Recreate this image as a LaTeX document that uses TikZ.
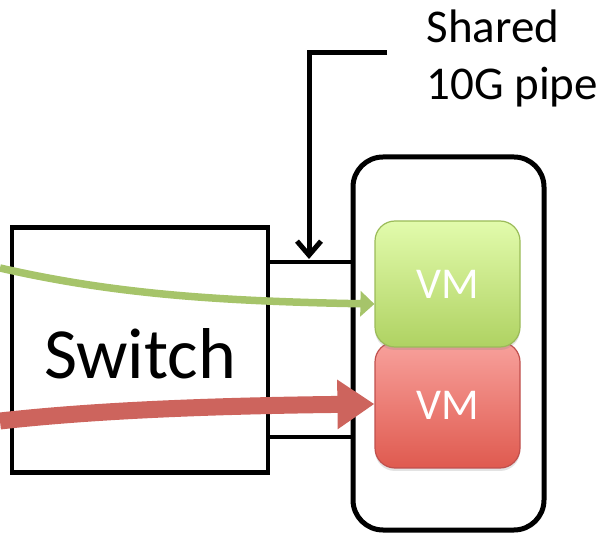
\documentclass[tikz,border=0pt]{standalone}
\usepackage{fontspec}
\setmainfont{Carlito}
\usetikzlibrary{arrows.meta,shadows}
\definecolor{vmgreentop}{HTML}{E2FBAC}
\definecolor{vmgreenbot}{HTML}{AFD262}
\definecolor{vmgreenrim}{HTML}{9BBB59}
\definecolor{vmredtop}{HTML}{F8A19C}
\definecolor{vmredbot}{HTML}{DF5A4F}
\definecolor{vmredrim}{HTML}{C0504D}
\definecolor{flowgreen}{HTML}{A6C46A}
\definecolor{flowred}{HTML}{CD645D}
\tikzset{
  boxline/.style={draw=black, line width=4.5pt},
  vmbox/.style={rounded corners=20pt, line width=1.2pt, minimum width=145pt,
    minimum height=126pt, text=white, font=\fontsize{44}{44}\selectfont,
    drop shadow={opacity=0.22, shadow xshift=0pt, shadow yshift=-3pt}},
  pipeline/.style={line width=4.5pt, draw=black},
  flow/.style={line cap=butt},
}
\begin{document}
\begin{tikzpicture}[x=1pt,y=-1pt]
\useasboundingbox (0,0) rectangle (600,534);

% switch and server
\node[boxline, minimum width=256pt, minimum height=245pt] (switch) at (140,350) {};
\node[anchor=base, font=\fontsize{72}{72}\selectfont] (switchlabel) at (140,379) {Switch};
\node[draw=black, line width=5pt, rounded corners=30pt, minimum width=191pt,
      minimum height=373pt] (server) at (448.5,343.5) {};

% the two virtual machines
\node[vmbox, draw=vmredrim, top color=vmredtop, bottom color=vmredbot] (vmred) at (447.5,405) {VM};
\node[vmbox, draw=vmgreenrim, top color=vmgreentop, bottom color=vmgreenbot] (vmgreen) at (447.5,284) {VM};

% the shared pipe between switch and server
\draw[pipeline] (switch.east |- 0,262) -- (server.west |- 0,262);
\draw[pipeline] (switch.east |- 0,437) -- (server.west |- 0,437);

% label and pointer
\node[anchor=base west, align=left, font=\fontsize{47}{57}\selectfont] (pipelabel) at (423,100) {Shared\\10G pipe};
\coordinate (pointertail) at (387,53);
\coordinate (pointertip) at (309,259);
\draw[line width=5pt, -{Straight Barb[length=14pt,width=24pt,line width=5pt]}]
  (pointertail) -- (pointertip |- pointertail) -- (pointertip);

% traffic flows
\coordinate (greenstart) at (0,268);
\coordinate (redstart) at (0,421);
\draw[flow, draw=flowgreen, line width=7.5pt, -{Triangle[length=14pt,width=25pt]}]
  (greenstart) .. controls (110,293) and (210,301) .. (vmgreen.west |- 0,304);
\draw[flow, draw=flowred, line width=17pt, -{Triangle[length=37pt,width=47pt]}]
  (redstart) .. controls (90,411) and (200,406) .. (vmred.west |- 0,404);
\end{tikzpicture}
\end{document}
